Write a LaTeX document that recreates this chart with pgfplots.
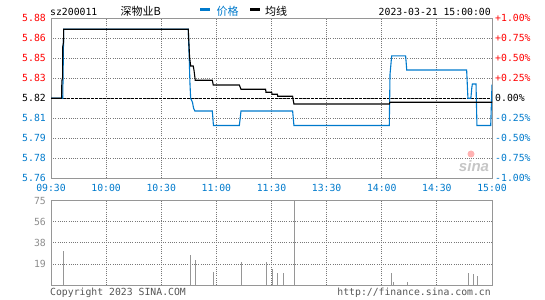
\documentclass[border=0pt]{standalone}
\usepackage{pgfplots}
\pgfplotsset{compat=1.18}
\usepackage{fontspec}
\setmainfont{DejaVu Sans Mono}
\newfontfamily\cjk{Noto Sans CJK SC}
\newfontfamily\logofont{Liberation Sans}
\definecolor{sblue}{RGB}{0,122,204}
\definecolor{sred}{RGB}{255,0,0}
\definecolor{sgrid}{RGB}{120,120,120}
\definecolor{sborder}{RGB}{150,150,150}
\definecolor{svol}{RGB}{150,150,150}
\definecolor{slab}{RGB}{140,140,140}
\definecolor{stext}{RGB}{85,85,85}
\newcommand\fs{\fontsize{9.8bp}{10bp}\selectfont}
\newcommand\cfs{\fontsize{11bp}{11bp}\selectfont}

\pgfplotstableread{
m p
0 0
6.4 0
6.9 0.8625
74.7 0.8625
75.2 0.52
75.6 0.2
76.0 0
77.0 -0.05
77.6 -0.125
78.3 -0.159
87.8 -0.159
88.4 -0.34
102.5 -0.34
103.4 -0.159
131.5 -0.159
132.2 -0.34
184.1 -0.34
184.5 0.30
185.4 0.53
193.0 0.53
193.6 0.354
226.2 0.354
226.9 0
228.5 0
229.0 0.13
229.3 0.179
231.3 0.179
231.8 -0.34
239.3 -0.34
240 0.17
}\price

\pgfplotstableread{
m p
0 0
5.8 0
5.9 0.216
6.3 0.26
6.4 0.645
6.8 0.70
6.9 0.8625
74.7 0.8625
75.4 0.52
76.0 0.404
77.4 0.404
77.8 0.354
78.5 0.225
87.8 0.225
88.3 0.166
102.5 0.166
103.4 0.1125
116.8 0.1125
117.0 0.075
120.1 0.075
120.3 0.05
123.2 0.05
123.4 0.025
131.5 0.025
131.8 -0.02
132.2 -0.071
184.1 -0.071
184.5 -0.05
240 -0.05
}\avgline

\pgfplotstableread{
m v
6.7 30.7
75.8 26.6
78.5 22.4
88.3 11.8
103.6 20.7
117.4 20.7
120.3 14.5
123.2 10.9
126.4 10.9
132.4 75
185.2 10.9
186.3 2.9
193.9 2.9
227.3 10.9
229.8 10.0
232.0 8.2
}\vol

\pgfplotsset{
  sina/.style={
    scale only axis, width=441bp, anchor=south west,
    xmin=0, xmax=240,
    xtick={0,30,60,90,120,150,180,210,240},
    grid=major,
    major grid style={sgrid, line width=1bp, dash pattern=on 1bp off 1.2bp},
    axis line style={sborder, line width=1bp},
    tick style={draw=none},
    major tick length=0pt,
    tick label style={font=\fs, inner sep=0pt},
  }
}

\begin{document}
\begin{tikzpicture}
\useasboundingbox (0bp,0bp) rectangle (545bp,300bp);

% watermark
\node[text=gray!45, font=\logofont\bfseries\itshape\fontsize{15bp}{15bp}\selectfont, inner sep=0pt] at (474bp,134bp) {sina};
\fill[red!30] (471bp,146bp) circle (3.5bp);

% main chart
\begin{axis}[sina, at={(51bp,121.7bp)}, height=160bp,
  ymin=-1, ymax=1,
  ytick={-1,-0.75,-0.5,-0.25,0,0.25,0.5,0.75,1},
  yticklabels={\textcolor{sblue}{5.76},\textcolor{sblue}{5.78},\textcolor{sblue}{5.79},\textcolor{sblue}{5.81},5.82,\textcolor{sred}{5.83},\textcolor{sred}{5.85},\textcolor{sred}{5.86},\textcolor{sred}{5.88}},
  xticklabels={09:30,10:00,10:30,11:00,11:30,13:30,14:00,14:30,15:00},
  xticklabel style={text=sblue, anchor=north, yshift=-6bp},
  yticklabel style={anchor=east, xshift=-5bp},
]
\addplot[black, line width=0.9bp, dash pattern=on 3bp off 1bp] coordinates {(0,0) (240,0)};
\addplot[sblue, line width=1.1bp] table[x=m,y=p] {\price};
\addplot[black, line width=1.1bp] table[x=m,y=p] {\avgline};
\end{axis}

% right percent labels
\begin{axis}[at={(51bp,121.7bp)}, anchor=south west, scale only axis, width=441bp, height=160bp,
  xmin=0, xmax=240, ymin=-1, ymax=1,
  hide x axis, axis y line*=right, y axis line style={draw=none},
  tick style={draw=none}, major tick length=0pt,
  ytick={-1,-0.75,-0.5,-0.25,0,0.25,0.5,0.75,1},
  yticklabels={\textcolor{sblue}{-1.00\%},\textcolor{sblue}{-0.75\%},\textcolor{sblue}{-0.50\%},\textcolor{sblue}{-0.25\%},0.00\%,\textcolor{sred}{+0.25\%},\textcolor{sred}{+0.50\%},\textcolor{sred}{+0.75\%},\textcolor{sred}{+1.00\%}},
  yticklabel style={font=\fs, inner sep=0pt, anchor=west, xshift=3bp},
]
\addplot[draw=none] coordinates {(0,0)};
\end{axis}

% volume chart
\begin{axis}[sina, at={(51bp,14.7bp)}, height=84.6bp,
  ymin=0, ymax=75,
  ytick={0,18.75,37.5,56.25,75},
  yticklabels={,19,38,56,75},
  xticklabels={},
  yticklabel style={text=slab, anchor=east, xshift=-5bp},
]
\addplot[ycomb, svol, line width=1bp] table[x=m,y=v] {\vol};
\end{axis}

% header
\node[anchor=base west, inner sep=0pt, font=\fs] at (50bp,284.7bp) {sz200011};
\node[anchor=base west, inner sep=0pt, font=\cjk\cfs] at (120.5bp,284.7bp) {深物业B};
\fill[sblue] (200bp,289.3bp) rectangle (210bp,292bp);
\node[anchor=base west, inner sep=0pt, font=\cjk\cfs, text=sblue] at (216.5bp,284.7bp) {价格};
\fill[black] (250bp,289.3bp) rectangle (260bp,292bp);
\node[anchor=base west, inner sep=0pt, font=\cjk\cfs] at (265bp,284.7bp) {均线};
\node[anchor=base east, inner sep=0pt, font=\fs] at (491bp,284.7bp) {2023-03-21 15:00:00};

% footer
\node[anchor=base west, inner sep=0pt, font=\fs, text=stext] at (50bp,4.1bp) {Copyright 2023 SINA.COM};
\node[anchor=base east, inner sep=0pt, font=\fs, text=stext] at (491bp,4.1bp) {http://finance.sina.com.cn};
\end{tikzpicture}
\end{document}
